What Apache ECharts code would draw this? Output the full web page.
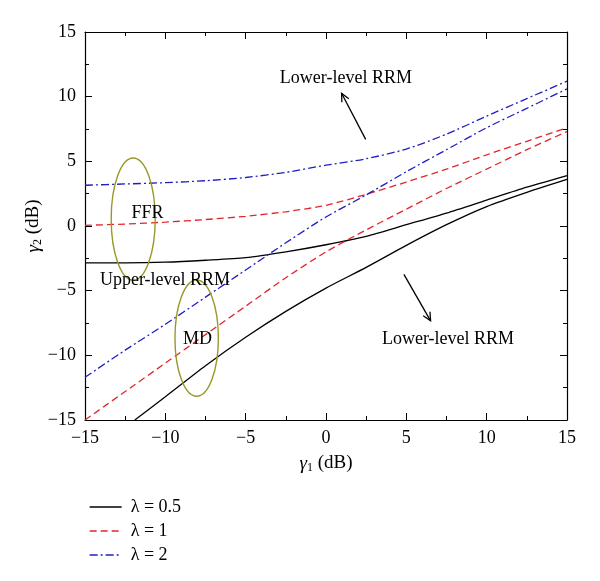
<!DOCTYPE html>
<html>
<head>
<meta charset="utf-8">
<script src="https://cdn.jsdelivr.net/npm/echarts@6/dist/echarts.min.js"></script>
<style>html,body{margin:0;padding:0;background:#fff}#c{width:600px;height:581px}</style>
</head>
<body>
<div id="c"></div>
<script>
// ---- data ----
var xs = [-15, -12.5, -10, -7.5, -5, -2.5, 0, 2.5, 5, 7.5, 10, 12.5, 15];
var blackUpper = [-2.85, -2.85, -2.8, -2.65, -2.45, -2.0, -1.45, -0.8, 0.1, 1.0, 2.0, 3.0, 3.9];
var redUpper = [0.05, 0.15, 0.3, 0.5, 0.75, 1.1, 1.6, 2.45, 3.4, 4.4, 5.5, 6.55, 7.6];
var blueUpper = [3.15, 3.25, 3.35, 3.5, 3.75, 4.15, 4.7, 5.2, 5.95, 7.1, 8.5, 9.85, 11.2];
var redLower = [-15, -12.8, -10.6, -8.4, -6.2, -4.0, -2.0, -0.3, 1.3, 2.9, 4.4, 5.9, 7.3];
var blueLower = [-11.7, -9.6, -7.6, -5.5, -3.4, -1.3, 0.7, 2.4, 4.2, 5.9, 7.6, 9.1, 10.6];
var xsBlackLower = [-11.9, -10, -7.5, -5, -2.5, 0, 2.5, 5, 7.5, 10, 12.5, 15];
var blackLower = [-15, -13.2, -10.8, -8.6, -6.6, -4.8, -3.2, -1.5, 0.1, 1.5, 2.6, 3.6];
var seriesNames = ['λ = 0.5', 'λ = 1', 'λ = 2'];
var xTicks = [-15, -10, -5, 0, 5, 10, 15];
var yTicks = [-15, -10, -5, 0, 5, 10, 15];

// annotations (data coordinates)
var ellipses = [[-12.0, 0.54, 1.37, 4.72], [-8.05, -8.67, 1.35, 4.49]];
var labelTexts = ['Lower-level RRM', 'FFR', 'Upper-level RRM', 'MD', 'Lower-level RRM'];
var labelPos = [[1.24, 11.44], [-11.11, 0.96], [-10.02, -4.18], [-8.0, -8.74], [7.59, -8.74]];
var arrows = [[2.47, 6.70, 0.97, 10.26], [4.85, -3.74, 6.51, -7.33]];

function zip(a, b) { return a.map(function (v, i) { return [v, b[i]]; }); }

var FONT = '"Liberation Serif", "DejaVu Serif", serif';
var RED = '#e3262b', BLUE = '#1f1fc4', OLIVE = '#99992a';
function minus(v) { return String(v).replace('-', '\u2212'); }

var chart = echarts.init(document.getElementById('c'), null, { renderer: 'canvas' });

function lineSeries(name, data, color, type) {
  return {
    type: 'line', name: name, data: data, showSymbol: false, symbol: 'none',
    smooth: 0.25, clip: true, animation: false,
    lineStyle: { color: color, width: 1.3, type: type },
    itemStyle: { color: color }
  };
}

var axisCommon = {
  min: -15, max: 15, interval: 5,
  axisLine: { show: true, onZero: false, lineStyle: { color: '#000', width: 1.2 } },
  axisTick: { show: true, inside: true, length: 7, lineStyle: { color: '#000', width: 1 } },
  minorTick: { show: true, splitNumber: 2, length: 4, lineStyle: { color: '#000', width: 1 } },
  splitLine: { show: false }
};
var nameRich = {
  g: { fontFamily: FONT, fontSize: 19, fontStyle: 'italic' },
  s: { fontFamily: FONT, fontSize: 12, verticalAlign: 'bottom', padding: [9, 0, 0, 0] }
};

var option = {
  animation: false,
  backgroundColor: '#fff',
  grid: { left: 85, top: 32, width: 482, height: 388 },
  legend: {
    data: seriesNames,
    orient: 'vertical', left: 84, top: 493,
    itemWidth: 32, itemHeight: 14, itemGap: 6,
    itemStyle: { opacity: 0, borderWidth: 0 },
    lineStyle: { width: 1.3 },
    textStyle: { fontFamily: FONT, fontSize: 18, color: '#000', padding: [0, 0, 0, 4] },
    selectedMode: false
  },
  xAxis: [
    Object.assign({}, axisCommon, {
      type: 'value', position: 'bottom',
      axisLabel: { fontFamily: FONT, fontSize: 18, color: '#000', margin: 9, formatter: minus, customValues: xTicks },
      name: '{g|γ}{s|1} (dB)', nameLocation: 'middle', nameGap: 33,
      nameTextStyle: { fontFamily: FONT, fontSize: 19, color: '#000', rich: nameRich }
    }),
    Object.assign({}, axisCommon, { type: 'value', position: 'top', axisLabel: { show: false } })
  ],
  yAxis: [
    Object.assign({}, axisCommon, {
      type: 'value', position: 'left',
      axisLabel: { fontFamily: FONT, fontSize: 18, color: '#000', margin: 9, formatter: minus, customValues: yTicks },
      name: '{g|γ}{s|2} (dB)', nameLocation: 'middle', nameGap: 41, nameMoveOverlap: false,
      nameTextStyle: { fontFamily: FONT, fontSize: 19, color: '#000', rich: nameRich }
    }),
    Object.assign({}, axisCommon, { type: 'value', position: 'right', axisLabel: { show: false } })
  ],
  series: [
    lineSeries(seriesNames[0], zip(xs, blackUpper), '#000', 'solid'),
    lineSeries(seriesNames[1], zip(xs, redUpper), RED, [7, 4]),
    lineSeries(seriesNames[2], zip(xs, blueUpper), BLUE, [8, 3, 2, 3]),
    lineSeries(seriesNames[0], zip(xsBlackLower, blackLower), '#000', 'solid'),
    lineSeries(seriesNames[1], zip(xs, redLower), RED, [7, 4]),
    lineSeries(seriesNames[2], zip(xs, blueLower), BLUE, [8, 3, 2, 3]),
    {
      type: 'custom', name: 'ellipses', data: ellipses, silent: true, z: 5,
      renderItem: function (params, api) {
        var c = api.coord([api.value(0), api.value(1)]);
        var s = api.size([api.value(2), api.value(3)]);
        return { type: 'ellipse', shape: { cx: c[0], cy: c[1], rx: s[0], ry: s[1] },
          style: { fill: 'none', stroke: OLIVE, lineWidth: 1.4 } };
      }
    },
    {
      type: 'custom', name: 'labels', data: labelPos, silent: true, z: 6,
      renderItem: function (params, api) {
        var c = api.coord([api.value(0), api.value(1)]);
        return { type: 'text', x: c[0], y: c[1],
          style: { text: labelTexts[params.dataIndex], fontFamily: FONT, fontSize: 18, fill: '#000', align: 'center', verticalAlign: 'middle' } };
      }
    },
    {
      type: 'custom', name: 'arrows', data: arrows, silent: true, z: 6,
      renderItem: function (params, api) {
        var a = api.coord([api.value(0), api.value(1)]);
        var b = api.coord([api.value(2), api.value(3)]);
        var ang = Math.atan2(b[1] - a[1], b[0] - a[0]);
        var L = 9, w = 0.45;
        var p1 = [b[0] - L * Math.cos(ang - w), b[1] - L * Math.sin(ang - w)];
        var p2 = [b[0] - L * Math.cos(ang + w), b[1] - L * Math.sin(ang + w)];
        return { type: 'group', children: [
          { type: 'line', shape: { x1: a[0], y1: a[1], x2: b[0], y2: b[1] }, style: { stroke: '#000', lineWidth: 1.3 } },
          { type: 'polyline', shape: { points: [p1, b, p2] }, style: { stroke: '#000', lineWidth: 1.3, fill: 'none' } }
        ] };
      }
    }
  ]
};
chart.setOption(option);
</script>
</body>
</html>
